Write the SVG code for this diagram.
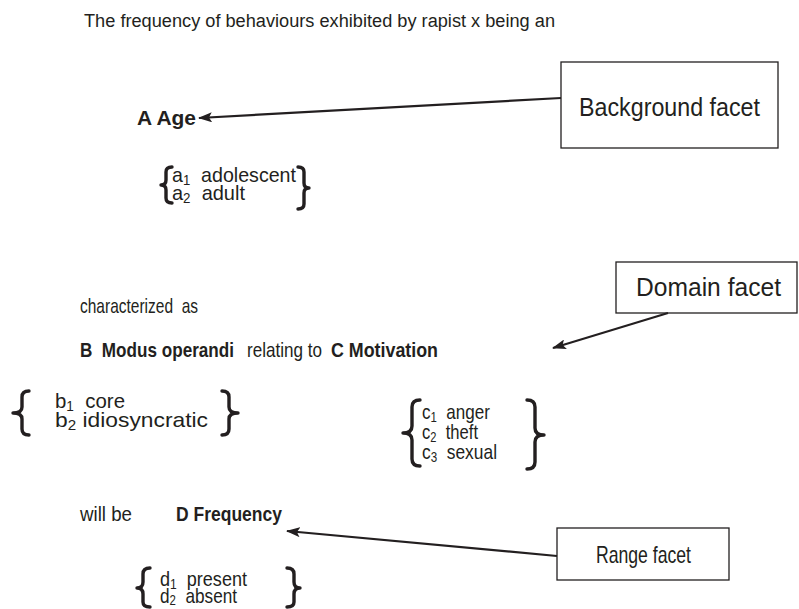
<svg xmlns="http://www.w3.org/2000/svg" width="799" height="609" viewBox="0 0 799 609" xml:space="preserve">
  <style>
    text { font-family: "Liberation Sans Narrow", "Liberation Sans", Arial, sans-serif; fill: #231f20; white-space: pre; }
    .title { font-family: "Liberation Sans", Arial, sans-serif; font-size: 18px; }
    .lbl { font-size: 21px; }
    .bold { font-size: 21px; font-weight: bold; }
    .facet { font-size: 26px; }
    .sub { font-size: 14px; }
    .box { fill: #ffffff; stroke: #231f20; stroke-width: 1.3; }
    .brace { fill: none; stroke: #231f20; stroke-width: 3.4; stroke-linecap: round; stroke-linejoin: round; }
    .conn { fill: none; stroke: #231f20; stroke-width: 2.2; }
  </style>
  <defs>
    <marker id="arrow" viewBox="0 0 14 10" refX="13" refY="5" markerWidth="14" markerHeight="10" markerUnits="userSpaceOnUse" orient="auto">
      <path d="M0,0 L14,5 L0,10 L3,5 z" fill="#231f20"/>
    </marker>
  </defs>
  <rect width="799" height="609" fill="#ffffff"/>

  <text class="title" x="84" y="27" textLength="471" lengthAdjust="spacingAndGlyphs">The frequency of behaviours exhibited by rapist x being an</text>

  <!-- facet A -->
  <g id="facet-a">
    <text class="bold" x="137" y="125" textLength="59" lengthAdjust="spacingAndGlyphs">A Age</text>
    <path class="brace" d="M172,167 Q166,167 166,172 L166,180 Q166,185 161,185 Q166,185 166,190 L166,198 Q166,203 172,203"/>
    <text class="lbl" x="172" y="182" textLength="124" lengthAdjust="spacingAndGlyphs">a<tspan class="sub" dy="3">1</tspan><tspan dy="-3">  adolescent</tspan></text>
    <text class="lbl" x="172" y="200" textLength="73" lengthAdjust="spacingAndGlyphs">a<tspan class="sub" dy="3">2</tspan><tspan dy="-3">  adult</tspan></text>
    <path class="brace" d="M298,167 Q304,167 304,172 L304,183 Q304,188 309,188 Q304,188 304,193 L304,204 Q304,209 298,209"/>
  </g>

  <g id="link-text">
    <text class="lbl" x="80" y="313" textLength="118" lengthAdjust="spacingAndGlyphs">characterized  as</text>
    <text class="lbl" x="247" y="357" textLength="75" lengthAdjust="spacingAndGlyphs">relating to</text>
    <text class="lbl" x="80" y="521" textLength="52" lengthAdjust="spacingAndGlyphs">will be</text>
  </g>

  <!-- facet B -->
  <g id="facet-b">
    <text class="bold" x="80" y="357" textLength="154" lengthAdjust="spacingAndGlyphs">B  Modus operandi</text>
    <path class="brace" d="M29,391 Q22,391 22,397 L22,407 Q22,413 13,413 Q22,413 22,419 L22,429 Q22,435 29,435"/>
    <text class="lbl" x="55" y="408" textLength="70" lengthAdjust="spacingAndGlyphs">b<tspan class="sub" dy="3">1</tspan><tspan dy="-3">  core</tspan></text>
    <text class="lbl" x="55" y="427" textLength="153" lengthAdjust="spacingAndGlyphs">b<tspan class="sub" dy="3">2</tspan><tspan dy="-3"> idiosyncratic</tspan></text>
    <path class="brace" d="M222,391 Q229,391 229,397 L229,407 Q229,413 238,413 Q229,413 229,419 L229,429 Q229,435 222,435"/>
  </g>

  <!-- facet C -->
  <g id="facet-c">
    <text class="bold" x="331" y="357" textLength="107" lengthAdjust="spacingAndGlyphs">C Motivation</text>
    <path class="brace" d="M420,400 Q412,400 412,407 L412,426 Q412,433 403,433 Q412,433 412,440 L412,459 Q412,466 420,466"/>
    <text class="lbl" x="422" y="419" textLength="68" lengthAdjust="spacingAndGlyphs">c<tspan class="sub" dy="3">1</tspan><tspan dy="-3">  anger</tspan></text>
    <text class="lbl" x="422" y="439" textLength="56" lengthAdjust="spacingAndGlyphs">c<tspan class="sub" dy="3">2</tspan><tspan dy="-3">  theft</tspan></text>
    <text class="lbl" x="422" y="459" textLength="75" lengthAdjust="spacingAndGlyphs">c<tspan class="sub" dy="3">3</tspan><tspan dy="-3">  sexual</tspan></text>
    <path class="brace" d="M527,400 Q535,400 535,407 L535,428 Q535,435 544,435 Q535,435 535,442 L535,462 Q535,469 527,469"/>
  </g>

  <!-- facet D -->
  <g id="facet-d">
    <text class="bold" x="176" y="521" textLength="106" lengthAdjust="spacingAndGlyphs">D Frequency</text>
    <path class="brace" d="M150,568 Q143,568 143,574 L143,582 Q143,588 137,588 Q143,588 143,594 L143,602 Q143,607 150,607"/>
    <text class="lbl" x="160" y="586" textLength="87" lengthAdjust="spacingAndGlyphs">d<tspan class="sub" dy="3">1</tspan><tspan dy="-3">  present</tspan></text>
    <text class="lbl" x="160" y="603" textLength="77" lengthAdjust="spacingAndGlyphs">d<tspan class="sub" dy="2">2</tspan><tspan dy="-2">  absent</tspan></text>
    <path class="brace" d="M287,568 Q294,568 294,574 L294,582 Q294,588 300,588 Q294,588 294,594 L294,602 Q294,607 287,607"/>
  </g>

  <!-- facet type labels -->
  <g id="background-facet">
    <rect class="box" x="561" y="62" width="217" height="86"/>
    <text class="facet" x="579" y="116" textLength="181" lengthAdjust="spacingAndGlyphs">Background facet</text>
  </g>
  <g id="domain-facet">
    <rect class="box" x="616" y="262" width="181" height="51"/>
    <text class="facet" x="636" y="296" textLength="145" lengthAdjust="spacingAndGlyphs">Domain facet</text>
  </g>
  <g id="range-facet">
    <rect class="box" x="557" y="528" width="172" height="52"/>
    <text class="facet" x="596" y="563" style="font-size:24px" textLength="95" lengthAdjust="spacingAndGlyphs">Range facet</text>
  </g>

  <g id="connectors">
    <line class="conn" x1="561" y1="98" x2="199" y2="118" marker-end="url(#arrow)"/>
    <line class="conn" x1="668" y1="313" x2="553" y2="348" marker-end="url(#arrow)"/>
    <line class="conn" x1="557" y1="556" x2="287" y2="531" marker-end="url(#arrow)"/>
  </g>
</svg>
